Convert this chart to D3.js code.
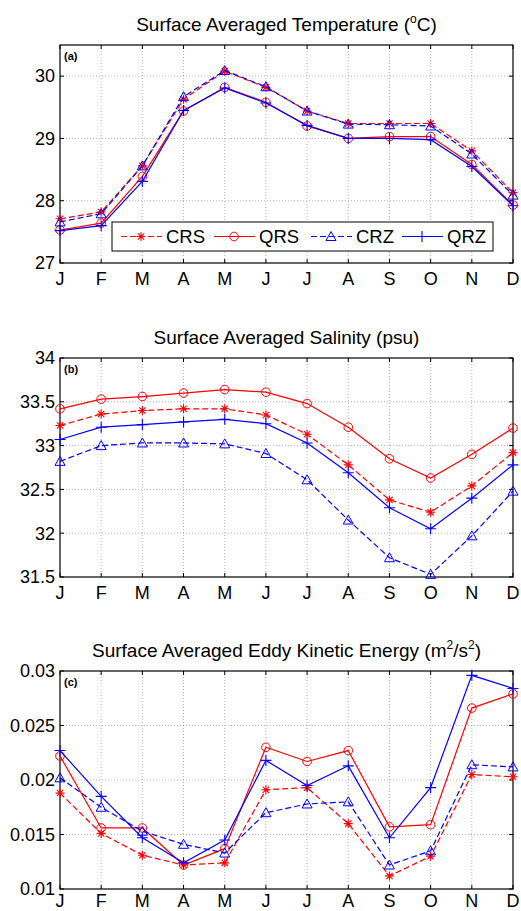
<!DOCTYPE html>
<html>
<head>
<meta charset="utf-8">
<script src="https://cdn.jsdelivr.net/npm/d3@7"></script>
<style>
  body { margin: 0; background: #fff; }
  svg { display: block; font-family: "Liberation Sans", Arial, sans-serif; }
</style>
</head>
<body>
<div id="chart"></div>
<script>
const months = ['J', 'F', 'M', 'A', 'M', 'J', 'J', 'A', 'S', 'O', 'N', 'D'];
const seriesNames = ['CRS', 'QRS', 'CRZ', 'QRZ'];

// (a) temperature
const tempCRS = [27.71, 27.82, 28.56, 29.63, 30.08, 29.82, 29.44, 29.24, 29.24, 29.24, 28.80, 28.13];
const tempQRS = [27.53, 27.64, 28.39, 29.44, 29.82, 29.58, 29.20, 29.00, 29.03, 29.03, 28.58, 27.93];
const tempCRZ = [27.66, 27.79, 28.56, 29.67, 30.09, 29.83, 29.44, 29.23, 29.22, 29.20, 28.75, 28.09];
const tempQRZ = [27.52, 27.60, 28.31, 29.45, 29.81, 29.57, 29.21, 29.00, 29.00, 28.98, 28.55, 27.92];

// (b) salinity
const saltCRS = [33.23, 33.36, 33.40, 33.42, 33.42, 33.35, 33.13, 32.78, 32.38, 32.24, 32.54, 32.92];
const saltQRS = [33.42, 33.53, 33.56, 33.60, 33.64, 33.61, 33.48, 33.21, 32.85, 32.63, 32.90, 33.20];
const saltCRZ = [32.82, 33.00, 33.03, 33.03, 33.02, 32.91, 32.61, 32.15, 31.72, 31.53, 31.97, 32.48];
const saltQRZ = [33.07, 33.21, 33.24, 33.27, 33.30, 33.25, 33.03, 32.69, 32.29, 32.05, 32.40, 32.78];

// (c) eddy kinetic energy
const ekeCRS = [0.0188, 0.0151, 0.0131, 0.0122, 0.0124, 0.0191, 0.0193, 0.0160, 0.0112, 0.0130, 0.0205, 0.0203];
const ekeQRS = [0.0222, 0.0156, 0.0156, 0.0122, 0.0137, 0.0230, 0.0217, 0.0227, 0.0157, 0.0159, 0.0266, 0.0279];
const ekeCRZ = [0.0202, 0.0175, 0.0153, 0.0141, 0.0133, 0.0170, 0.0178, 0.0180, 0.0122, 0.0135, 0.0214, 0.0212];
const ekeQRZ = [0.0227, 0.0185, 0.0147, 0.0124, 0.0145, 0.0218, 0.0195, 0.0213, 0.0147, 0.0193, 0.0296, 0.0284];

const tempTicks = [27, 28, 29, 30];
const saltTicks = [31.5, 32, 32.5, 33, 33.5, 34];
const ekeTicks = [0.01, 0.015, 0.02, 0.025, 0.03];

const W = 521, H = 911;
const left = 60, right = 513;

const styles = {
  CRS: { color: '#ff0000', dash: '6,3', marker: 'star' },
  QRS: { color: '#ff0000', dash: null, marker: 'circle' },
  CRZ: { color: '#0000ff', dash: '6,3', marker: 'triangle' },
  QRZ: { color: '#0000ff', dash: null, marker: 'plus' }
};

const panels = [
  { tag: '(a)', title: ['Surface Averaged Temperature (', 'o', 'C)'], top: 45, bottom: 263, domain: [27, 30.5],
    ticks: tempTicks, fmt: d3.format('d'), data: [tempCRS, tempQRS, tempCRZ, tempQRZ], legend: true },
  { tag: '(b)', title: ['Surface Averaged Salinity (psu)'], top: 358, bottom: 577, domain: [31.5, 34],
    ticks: saltTicks, fmt: d => String(d), data: [saltCRS, saltQRS, saltCRZ, saltQRZ] },
  { tag: '(c)', title: ['Surface Averaged Eddy Kinetic Energy (m', '2', '/s', '2', ')'], top: 671, bottom: 889, domain: [0.01, 0.03],
    ticks: ekeTicks, fmt: d => String(d), data: [ekeCRS, ekeQRS, ekeCRZ, ekeQRZ] }
];

const svg = d3.select('#chart').append('svg')
  .attr('width', W).attr('height', H);
svg.append('rect').attr('width', W).attr('height', H).attr('fill', '#fff');

const x = d3.scalePoint().domain(d3.range(12)).range([left, right]);

function drawMarker(g, type, px, py, color) {
  if (type === 'circle') {
    g.append('circle').attr('cx', px).attr('cy', py).attr('r', 4.3)
      .attr('fill', 'none').attr('stroke', color).attr('stroke-width', 1);
  } else if (type === 'triangle') {
    const s = 5;
    g.append('path').attr('d', `M${px},${py - s}L${px + s},${py + s * 0.8}L${px - s},${py + s * 0.8}Z`)
      .attr('fill', 'none').attr('stroke', color).attr('stroke-width', 1);
  } else if (type === 'plus') {
    const s = 5.5;
    g.append('path').attr('d', `M${px - s},${py}H${px + s}M${px},${py - s}V${py + s}`)
      .attr('stroke', color).attr('stroke-width', 1.1);
  } else if (type === 'star') {
    const s = 4.5, d = s * 0.7;
    g.append('path').attr('d', `M${px - s},${py}H${px + s}M${px},${py - s}V${py + s}M${px - d},${py - d}L${px + d},${py + d}M${px - d},${py + d}L${px + d},${py - d}`)
      .attr('stroke', color).attr('stroke-width', 1.1);
  }
}

panels.forEach(p => {
  const y = d3.scaleLinear().domain(p.domain).range([p.bottom, p.top]);
  const g = svg.append('g');

  // grid
  g.append('g').selectAll('line.vg').data(d3.range(1, 11)).join('line')
    .attr('x1', d => x(d)).attr('x2', d => x(d)).attr('y1', p.top).attr('y2', p.bottom)
    .attr('stroke', '#a0a0a0').attr('stroke-width', 0.8).attr('stroke-dasharray', '1,2');
  g.append('g').selectAll('line.hg').data(p.ticks.filter(t => t > p.domain[0] && t < p.domain[1])).join('line')
    .attr('x1', left).attr('x2', right).attr('y1', d => y(d)).attr('y2', d => y(d))
    .attr('stroke', '#a0a0a0').attr('stroke-width', 0.8).attr('stroke-dasharray', '1,2');

  // inward ticks on all sides
  const tk = 4;
  g.append('g').selectAll('path').data(d3.range(12)).join('path')
    .attr('d', d => `M${x(d)},${p.bottom}v${-tk}M${x(d)},${p.top}v${tk}`)
    .attr('stroke', '#000').attr('stroke-width', 1);
  g.append('g').selectAll('path').data(p.ticks).join('path')
    .attr('d', d => `M${left},${y(d)}h${tk}M${right},${y(d)}h${-tk}`)
    .attr('stroke', '#000').attr('stroke-width', 1);

  // box
  g.append('rect').attr('x', left).attr('y', p.top).attr('width', right - left).attr('height', p.bottom - p.top)
    .attr('fill', 'none').attr('stroke', '#000').attr('stroke-width', 1.2);

  // tick labels
  g.append('g').selectAll('text').data(p.ticks).join('text')
    .attr('x', left - 5).attr('y', d => y(d)).attr('dy', '0.35em')
    .attr('text-anchor', 'end').attr('font-size', 18).text(p.fmt);
  g.append('g').selectAll('text').data(months).join('text')
    .attr('x', (d, i) => x(i)).attr('y', Math.min(p.bottom + 22, H - 4))
    .attr('text-anchor', 'middle').attr('font-size', 18).text(d => d);

  // title
  const t = g.append('text').attr('x', (left + right) / 2).attr('y', p.top - 14)
    .attr('text-anchor', 'middle').attr('font-size', 19);
  p.title.forEach((s, i) => {
    const sup = i % 2 === 1;
    t.append('tspan').attr('font-size', sup ? 12 : 19)
      .attr('dy', sup ? -8 : (i > 0 ? 8 : 0)).text(s);
  });

  // panel tag
  g.append('text').attr('x', left + 4).attr('y', p.top + 15)
    .attr('font-size', 11).attr('font-weight', 'bold').text(p.tag);

  // series
  const line = d3.line().x((d, i) => x(i)).y(d => y(d));
  seriesNames.forEach((name, si) => {
    const st = styles[name];
    const vals = p.data[si];
    g.append('path').datum(vals).attr('d', line)
      .attr('fill', 'none').attr('stroke', st.color).attr('stroke-width', 1.2)
      .attr('stroke-dasharray', st.dash);
    const mg = g.append('g');
    vals.forEach((v, i) => drawMarker(mg, st.marker, x(i), y(v), st.color));
  });

  if (p.legend) {
    const lx = 112, ly = 222, lw = 381, lh = 29;
    const lg = g.append('g');
    lg.append('rect').attr('x', lx).attr('y', ly).attr('width', lw).attr('height', lh)
      .attr('fill', '#fff').attr('stroke', '#000').attr('stroke-width', 1);
    const itemX = [121, 214, 311, 402];
    seriesNames.forEach((name, i) => {
      const st = styles[name];
      const cx = itemX[i], cy = ly + lh / 2;
      lg.append('line').attr('x1', cx).attr('x2', cx + 41).attr('y1', cy).attr('y2', cy)
        .attr('stroke', st.color).attr('stroke-width', 1.2).attr('stroke-dasharray', st.dash);
      drawMarker(lg, st.marker, cx + 20, cy, st.color);
      lg.append('text').attr('x', cx + 45).attr('y', cy).attr('dy', '0.35em')
        .attr('font-size', 18.5).text(name);
    });
  }
});
</script>
</body>
</html>
